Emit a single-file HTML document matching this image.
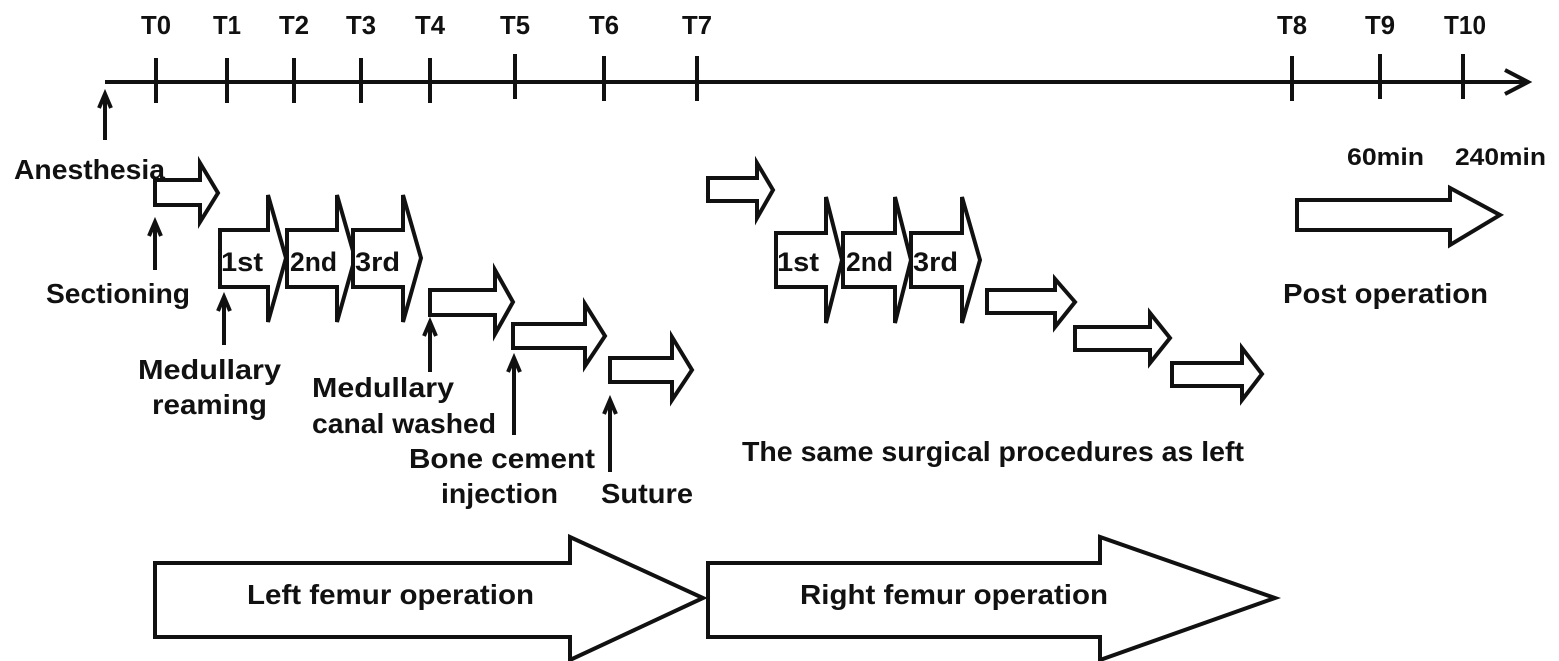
<!DOCTYPE html>
<html><head><meta charset="utf-8"><style>
html,body{margin:0;padding:0;background:#fff;}
svg{display:block;}
text{font-family:"Liberation Sans",sans-serif;font-weight:bold;fill:#111;}
</style></head><body>
<svg width="1559" height="661" viewBox="0 0 1559 661" xmlns="http://www.w3.org/2000/svg">
<g stroke="#111" stroke-width="4" fill="none" stroke-linejoin="miter">
<line x1="105" y1="82" x2="1526" y2="82"/>
<polyline points="1505,70 1528,82 1505,94"/>
<line x1="156" y1="58" x2="156" y2="103"/>
<line x1="227" y1="58" x2="227" y2="103"/>
<line x1="294" y1="58" x2="294" y2="103"/>
<line x1="361" y1="58" x2="361" y2="103"/>
<line x1="430" y1="58" x2="430" y2="103"/>
<line x1="515" y1="54" x2="515" y2="99"/>
<line x1="604" y1="56" x2="604" y2="101"/>
<line x1="697" y1="56" x2="697" y2="101"/>
<line x1="1292" y1="56" x2="1292" y2="101"/>
<line x1="1380" y1="54" x2="1380" y2="99"/>
<line x1="1463" y1="54" x2="1463" y2="99"/>
</g>
<g font-size="26" text-anchor="middle">
<text x="156" y="34" textLength="30" lengthAdjust="spacingAndGlyphs">T0</text><text x="227" y="34" textLength="28" lengthAdjust="spacingAndGlyphs">T1</text><text x="294" y="34" textLength="30" lengthAdjust="spacingAndGlyphs">T2</text>
<text x="361" y="34" textLength="30" lengthAdjust="spacingAndGlyphs">T3</text><text x="430" y="34" textLength="30" lengthAdjust="spacingAndGlyphs">T4</text><text x="515" y="34" textLength="30" lengthAdjust="spacingAndGlyphs">T5</text>
<text x="604" y="34" textLength="30" lengthAdjust="spacingAndGlyphs">T6</text><text x="697" y="34" textLength="30" lengthAdjust="spacingAndGlyphs">T7</text><text x="1292" y="34" textLength="30" lengthAdjust="spacingAndGlyphs">T8</text>
<text x="1380" y="34" textLength="30" lengthAdjust="spacingAndGlyphs">T9</text><text x="1465" y="34" textLength="42" lengthAdjust="spacingAndGlyphs">T10</text>
</g>
<g stroke="#111" stroke-width="4" fill="none">
<line x1="105" y1="95" x2="105" y2="140"/><polyline points="99,108 105,94 111,108"/>
<line x1="155" y1="222" x2="155" y2="270"/><polyline points="149,236 155,222 161,236"/>
<line x1="224" y1="297" x2="224" y2="345"/><polyline points="218,311 224,297 230,311"/>
<line x1="430" y1="322" x2="430" y2="372"/><polyline points="424,336 430,322 436,336"/>
<line x1="514" y1="358" x2="514" y2="435"/><polyline points="508,372 514,358 520,372"/>
<line x1="610" y1="400" x2="610" y2="472"/><polyline points="604,414 610,400 616,414"/>
</g>
<g stroke="#111" stroke-width="4" fill="#fff" stroke-linejoin="miter">
<polygon points="155,180 200,180 200,163 218,193 200,222 200,205 155,205"/>
<polygon points="430,290 495,290 495,270 513,302 495,334 495,315 430,315"/>
<polygon points="513,324 585,324 585,304 605,336 585,366 585,348 513,348"/>
<polygon points="610,358 672,358 672,337 692,370 672,400 672,382 610,382"/>
<polygon points="708,178 757,178 757,163 773,190 757,218 757,201 708,201"/>
<polygon points="987,290 1055,290 1055,279 1075,302 1055,327 1055,313 987,313"/>
<polygon points="1075,327 1150,327 1150,313 1170,338 1150,363 1150,350 1075,350"/>
<polygon points="1172,363 1242,363 1242,348 1262,374 1242,400 1242,386 1172,386"/>
<polygon points="1297,200 1450,200 1450,188 1500,215 1450,245 1450,230 1297,230"/>
<polygon points="155,563 570,563 570,537 703,598 570,660 570,637 155,637"/>
<polygon points="708,563 1100,563 1100,537 1275,598 1100,660 1100,637 708,637"/>
<polygon points="220,230 268,230 268,195 286,258 268,322 268,287 220,287"/>
<polygon points="287,230 337,230 337,195 355,258 337,322 337,287 287,287"/>
<polygon points="353,230 403,230 403,195 421,258 403,322 403,287 353,287"/>
<polygon points="776,233 826,233 826,197 842,260 826,323 826,287 776,287"/>
<polygon points="843,233 895,233 895,197 911,260 895,323 895,287 843,287"/>
<polygon points="911,233 962,233 962,197 980,260 962,323 962,287 911,287"/>
</g>
<g font-size="28">
<text x="221" y="271" font-size="27" textLength="42" lengthAdjust="spacingAndGlyphs">1st</text>
<text x="290" y="271" font-size="27" textLength="47" lengthAdjust="spacingAndGlyphs">2nd</text>
<text x="355" y="271" font-size="27" textLength="45" lengthAdjust="spacingAndGlyphs">3rd</text>
<text x="777" y="271" font-size="27" textLength="42" lengthAdjust="spacingAndGlyphs">1st</text>
<text x="846" y="271" font-size="27" textLength="47" lengthAdjust="spacingAndGlyphs">2nd</text>
<text x="913" y="271" font-size="27" textLength="45" lengthAdjust="spacingAndGlyphs">3rd</text>
<text x="14" y="179" textLength="151" lengthAdjust="spacingAndGlyphs">Anesthesia</text>
<text x="46" y="303" textLength="144" lengthAdjust="spacingAndGlyphs">Sectioning</text>
<text x="138" y="379" textLength="143" lengthAdjust="spacingAndGlyphs">Medullary</text>
<text x="152" y="414" textLength="115" lengthAdjust="spacingAndGlyphs">reaming</text>
<text x="312" y="397" textLength="142" lengthAdjust="spacingAndGlyphs">Medullary</text>
<text x="312" y="433" textLength="184" lengthAdjust="spacingAndGlyphs">canal washed</text>
<text x="409" y="468" textLength="186" lengthAdjust="spacingAndGlyphs">Bone cement</text>
<text x="441" y="503" textLength="117" lengthAdjust="spacingAndGlyphs">injection</text>
<text x="601" y="503" textLength="92" lengthAdjust="spacingAndGlyphs">Suture</text>
<text x="742" y="461" textLength="502" lengthAdjust="spacingAndGlyphs">The same surgical procedures as left</text>
<text x="1283" y="303" textLength="205" lengthAdjust="spacingAndGlyphs">Post operation</text>
<text x="1347" y="165" font-size="24" textLength="77" lengthAdjust="spacingAndGlyphs">60min</text>
<text x="1455" y="165" font-size="24" textLength="91" lengthAdjust="spacingAndGlyphs">240min</text>
<text x="247" y="604" textLength="287" lengthAdjust="spacingAndGlyphs">Left femur operation</text>
<text x="800" y="604" textLength="308" lengthAdjust="spacingAndGlyphs">Right femur operation</text>
</g>
</svg>
</body></html>
